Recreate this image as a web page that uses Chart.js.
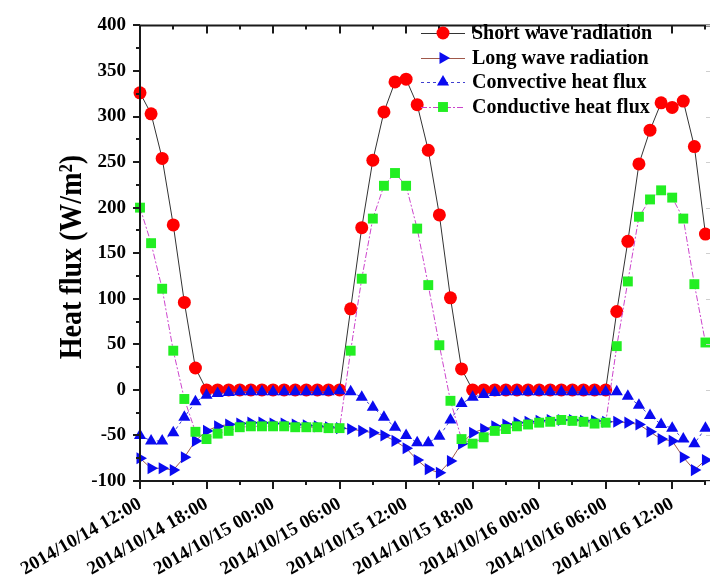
<!DOCTYPE html>
<html><head><meta charset="utf-8">
<script src="https://cdn.jsdelivr.net/npm/chart.js@4/dist/chart.umd.min.js"></script>
<style>
html,body{margin:0;padding:0;background:#fff;overflow:hidden;}
#wrap{width:710px;height:581px;overflow:hidden;position:relative;background:#fff;}
#c{display:block;}
</style></head><body>
<div id="wrap"><canvas id="c" width="730" height="581" style="width:730px;height:581px"></canvas></div>
<script>
// x tick labels (every 6 hours starting 2014/10/14 12:00)
const tickLabels = ['2014/10/14 12:00','2014/10/14 18:00','2014/10/15 00:00','2014/10/15 06:00',
  '2014/10/15 12:00','2014/10/15 18:00','2014/10/16 00:00','2014/10/16 06:00','2014/10/16 12:00'];
const yTickValues = [-100,-50,0,50,100,150,200,250,300,350,400];

// hourly values (W/m2), hour 0 = 2014/10/14 12:00
const shortWave = [326,303,254,181,96,24,
  0,0,0,0,0,0,0,0,0,0,0,0,0,
  89,178,252,305,338,341,313,263,192,101,23,
  0,0,0,0,0,0,0,0,0,0,0,0,0,
  86,163,248,285,315,310,317,267,171];
const longWave = [-75,-86,-86,-88,-74,-56,-45,-40,-38,-37,-36,-36,-37,-37,-38,-39,-40,-41,-42,
  -43,-45,-47,-50,-56,-64,-77,-87,-91,-78,-59,-47,-43,-40,-38,-36,-35,-34,-33,-33,-33,-34,-34,-35,
  -35,-36,-38,-46,-54,-56,-74,-88,-77];
const convective = [-50,-56,-56,-47,-30,-13,-6,-4,-3,-2,-2,-2,-2,-2,-2,-2,-2,-2,-1,
  -2,-8,-19,-30,-41,-50,-58,-58,-51,-33,-15,-8,-5,-3,-2,-2,-2,-2,-2,-2,-2,-2,-2,-2,
  -2,-7,-17,-28,-38,-42,-54,-59,-42];
const conductive = [200,161,111,43,-10,-46,-54,-48,-45,-41,-40,-40,-40,-40,-41,-41,-41,-42,-42,
  43,122,188,224,238,224,177,115,49,-12,-54,-59,-52,-45,-43,-40,-38,-36,-35,-33,-34,-35,-37,-36,
  48,119,190,209,219,211,188,116,52];

const seriesNames = ['Short wave radiation','Long wave radiation','Convective heat flux','Conductive heat flux'];

const toPts = arr => arr.map((v,i)=>({x:i, y:v}));
const FONT = 'Liberation Serif, Times New Roman, serif';

const axisPlugin = {
  id:'axisFrame',
  afterDatasetsDraw(chart){
    const {ctx, chartArea:{left,right,top,bottom}, scales:{x,y}} = chart;
    ctx.save();
    ctx.strokeStyle = '#1a1a1a';
    ctx.lineWidth = 2;
    ctx.beginPath();
    ctx.moveTo(left, top-1); ctx.lineTo(left, bottom+1);
    ctx.moveTo(left-1, bottom); ctx.lineTo(right+1, bottom);
    ctx.moveTo(left-1, top); ctx.lineTo(right+1, top);
    ctx.stroke();
    // y ticks
    ctx.beginPath();
    for (let v=-100; v<=400; v+=25){
      const py = Math.round(y.getPixelForValue(v));
      const len = (v % 50 === 0) ? 7 : 4;
      ctx.moveTo(left, py); ctx.lineTo(left-len, py);
    }
    // x ticks
    for (let h=0; h<=51; h+=3){
      const px = Math.round(x.getPixelForValue(h));
      const len = (h % 6 === 0) ? 8 : 4;
      ctx.moveTo(px, bottom); ctx.lineTo(px, bottom+len);
      ctx.moveTo(px, top); ctx.lineTo(px, top+len);
    }
    ctx.stroke();
    // faint right axis ticks
    ctx.strokeStyle = '#cfcfcf';
    ctx.lineWidth = 1;
    ctx.beginPath();
    for (let v=-100; v<=400; v+=50){
      const py = Math.round(y.getPixelForValue(v)) + 0.5;
      ctx.moveTo(right, py); ctx.lineTo(right-5, py);
    }
    ctx.stroke();
    ctx.restore();
  },
  afterDraw(chart){
    const {ctx} = chart;
    // y axis title
    ctx.save();
    ctx.fillStyle = '#000';
    ctx.font = 'bold 28px ' + FONT;
    ctx.translate(73, 257);
    ctx.scale(1.15, 1);
    ctx.rotate(-Math.PI/2);
    ctx.textAlign = 'center';
    ctx.textBaseline = 'middle';
    ctx.fillText('Heat flux (W/m\u00B2)', 0, 0);
    ctx.restore();

    // legend
    ctx.save();
    const ys = [33, 58, 82, 107];
    chart.data.datasets.forEach((ds, i) => {
      const yy = ys[i];
      ctx.save();
      ctx.strokeStyle = ds.borderColor;
      ctx.lineWidth = ds.borderWidth;
      ctx.setLineDash(ds.borderDash || []);
      ctx.beginPath();
      ctx.moveTo(421, yy+0.5); ctx.lineTo(465, yy+0.5);
      ctx.stroke();
      ctx.restore();
      ctx.save();
      ctx.fillStyle = ds.pointBackgroundColor;
      ctx.strokeStyle = ds.pointBorderColor;
      Chart.helpers.drawPoint(ctx, {pointStyle: ds.pointStyle, rotation: ds.pointRotation || 0,
        radius: ds.pointRadius, borderWidth: 0}, 443, yy);
      ctx.restore();
      ctx.fillStyle = '#000';
      ctx.font = 'bold 20px ' + FONT;
      ctx.textAlign = 'left';
      ctx.textBaseline = 'middle';
      ctx.fillText(ds.label, 472, yy+1);
    });
    ctx.restore();
  }
};

new Chart(document.getElementById('c').getContext('2d'), {
  type:'line',
  data:{datasets:[
    {label:seriesNames[0], data:toPts(shortWave), borderColor:'#333333', borderWidth:1,
     pointStyle:'circle', pointRadius:6.5, pointBackgroundColor:'#ff0000', pointBorderColor:'#ff0000', pointBorderWidth:0, order:4, clip:false},
    {label:seriesNames[1], data:toPts(longWave), borderColor:'#a0584a', borderWidth:1,
     pointStyle:'triangle', pointRotation:90, pointRadius:7, pointBackgroundColor:'#0a0af0', pointBorderColor:'#0a0af0', pointBorderWidth:0, order:3, clip:false},
    {label:seriesNames[2], data:toPts(convective), borderColor:'#4040d0', borderWidth:1, borderDash:[3,3],
     pointStyle:'triangle', pointRadius:7, pointBackgroundColor:'#0a0af0', pointBorderColor:'#0a0af0', pointBorderWidth:0, order:2, clip:false},
    {label:seriesNames[3], data:toPts(conductive), borderColor:'#cc44cc', borderWidth:1, borderDash:[6,2,2,2],
     pointStyle:'rect', pointRadius:7, pointBackgroundColor:'#22ee22', pointBorderColor:'#22ee22', pointBorderWidth:0, order:1, clip:false}
  ]},
  options:{
    responsive:false, animation:false, devicePixelRatio:1,
    layout:{padding:{left:0, right:19, top:15, bottom:0}},
    plugins:{legend:{display:false}, tooltip:{enabled:false}},
    elements:{line:{tension:0}},
    scales:{
      x:{type:'linear', min:0, max:51.5,
        grid:{display:false, drawTicks:false}, border:{display:false},
        afterBuildTicks: s => { s.ticks = tickLabels.map((t,i)=>({value:i*6})); },
        ticks:{callback:(v,i)=>tickLabels[i], maxRotation:30, minRotation:30, autoSkip:false, padding:12,
          font:{family:FONT, weight:'bold', size:19}, color:'#000'},
        afterFit: s => { s.height = 100; }
      },
      y:{min:-100, max:400,
        grid:{display:false, drawTicks:false}, border:{display:false},
        afterBuildTicks: s => { s.ticks = yTickValues.map(v=>({value:v})); },
        ticks:{padding:14, font:{family:FONT, weight:'bold', size:19}, color:'#000'},
        afterFit: s => { s.width = 140; }
      }
    }
  },
  plugins:[axisPlugin]
});
</script>
</body></html>
